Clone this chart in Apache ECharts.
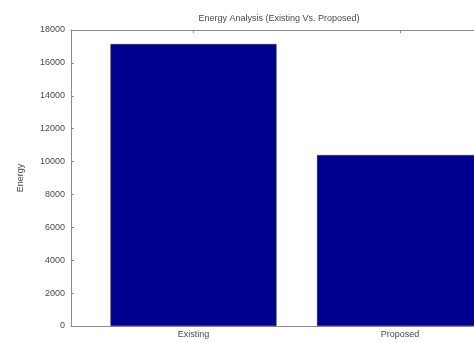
<!DOCTYPE html>
<html>
<head>
<meta charset="utf-8">
<style>
  html, body { margin: 0; padding: 0; background: #fff; }
  #chart { width: 474px; height: 343px; }
</style>
<script src="https://cdn.jsdelivr.net/npm/echarts@6/dist/echarts.min.js"></script>
</head>
<body>
<div id="chart"></div>
<script>
// Energy totals for the two scenarios
const categories = ['Existing', 'Proposed'];
const positions = [1, 2];
const energyValues = [17150, 10400];
const yTicks = [0, 2000, 4000, 6000, 8000, 10000, 12000, 14000, 16000, 18000];

const barData = positions.map((p, i) => [p, energyValues[i]]);
const labelFor = v => {
  const idx = positions.indexOf(Math.round(v));
  return idx >= 0 ? categories[idx] : '';
};

const textColor = '#4a4a4a';
const lineColor = '#8a8a8a';
const font = 'Liberation Sans, Arial, sans-serif';

// x range: the plot box runs past the right edge of the canvas
const xMin = 0.4068, xMax = 2.3584;

const chart = echarts.init(document.getElementById('chart'));
chart.setOption({
  animation: false,
  backgroundColor: '#ffffff',
  title: {
    text: 'Energy Analysis (Existing Vs. Proposed)',
    left: 274,
    top: 9,
    textAlign: 'center',
    textStyle: { fontFamily: font, fontSize: 9, fontWeight: 'normal', color: textColor }
  },
  grid: { left: 71, right: 0, top: 30, bottom: 17 },
  xAxis: [{
    type: 'value',
    min: xMin, max: xMax,
    position: 'bottom',
    splitLine: { show: false },
    axisLine: { show: true, lineStyle: { color: lineColor } },
    axisTick: { show: true, inside: true, length: 3, customValues: positions, lineStyle: { color: lineColor } },
    axisLabel: {
      customValues: positions,
      formatter: labelFor,
      margin: 4,
      fontFamily: font, fontSize: 9, color: textColor
    }
  }, {
    type: 'value',
    min: xMin, max: xMax,
    position: 'top',
    splitLine: { show: false },
    axisLine: { show: true, lineStyle: { color: lineColor } },
    axisTick: { show: true, inside: true, length: 3, customValues: positions, lineStyle: { color: lineColor } },
    axisLabel: { show: false }
  }],
  yAxis: {
    type: 'value',
    min: 0, max: 18000, interval: 2000,
    name: 'Energy',
    nameLocation: 'middle',
    nameGap: 46,
    nameRotate: 90,
    nameTextStyle: { fontFamily: font, fontSize: 9, color: textColor },
    splitLine: { show: false },
    axisLine: { show: true, lineStyle: { color: lineColor } },
    axisTick: { show: true, inside: true, length: 3, customValues: yTicks, lineStyle: { color: lineColor } },
    axisLabel: {
      customValues: yTicks,
      formatter: v => String(v),
      margin: 6,
      fontFamily: font, fontSize: 9, color: textColor
    }
  },
  series: [{
    type: 'bar',
    data: barData,
    barWidth: 166,
    clip: true,
    itemStyle: { color: '#000090', borderColor: '#1a1a5a', borderWidth: 0.8 }
  }]
});
</script>
</body>
</html>
